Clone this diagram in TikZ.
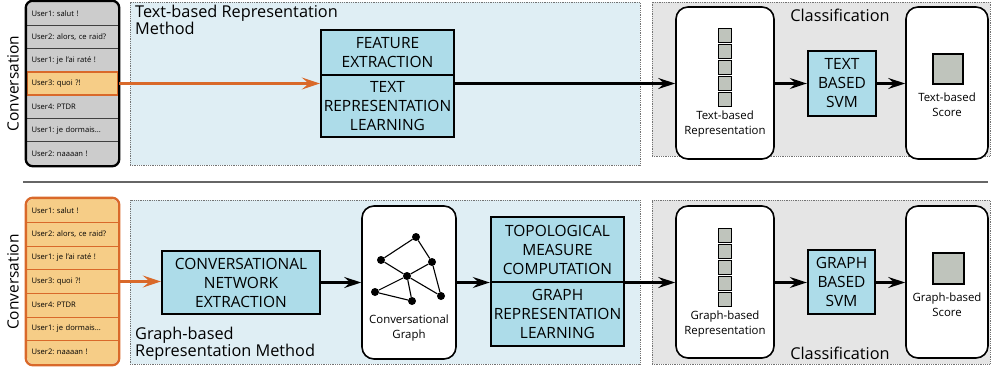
\documentclass[tikz,border=0pt]{standalone}
\usepackage{fontspec}
\setmainfont{Open Sans}
\usetikzlibrary{arrows.meta}
\frenchspacing
\definecolor{regblue}{RGB}{223,238,244}
\definecolor{boxblue}{RGB}{173,220,233}
\definecolor{reggray}{RGB}{229,229,229}
\definecolor{convgray}{RGB}{204,204,204}
\definecolor{convorange}{RGB}{246,205,135}
\definecolor{orangeline}{RGB}{217,105,42}
\definecolor{sqgray}{RGB}{191,196,188}
\newcommand{\fs}[2]{\fontsize{#1}{#2}\selectfont}
\tikzset{
  region/.style={draw=black!55, densely dotted, line width=0.8pt, inner sep=0pt},
  convbox/.style={line width=2.4pt, rounded corners=7pt, inner sep=0pt, minimum width=91pt},
  rowtext/.style={inner xsep=4.5pt, inner ysep=0pt, text width=82pt, align=left, font=\fs{7.6}{9}, text=black},
  procbox/.style={draw=black, line width=2.4pt, fill=boxblue, inner sep=0pt},
  proctext/.style={align=center, font=\fs{15.5}{19}, inner sep=0pt},
  whitebox/.style={draw=black, line width=1.6pt, fill=white, rounded corners=12pt, inner sep=0pt, minimum width=98pt, minimum height=152pt},
  scorebox/.style={whitebox, minimum width=82pt},
  smalltext/.style={align=center, font=\fs{11.4}{15}, inner sep=0pt},
  vecsq/.style={draw=black, line width=1pt, fill=sqgray, minimum width=13pt, minimum height=14pt, inner sep=0pt},
  bigsq/.style={draw=black, line width=1.4pt, fill=sqgray, minimum size=30pt, inner sep=0pt},
  title/.style={font=\fs{16.3}{15}, inner sep=0pt, align=left},
  bigtext/.style={font=\fs{16.3}{18}, inner sep=0pt},
  flow/.style={draw=black, line width=2.2pt, -{Stealth[length=17pt, width=11pt, inset=6pt]}},
  oflow/.style={draw=orangeline, line width=2.2pt, -{Stealth[length=18pt, width=12pt, inset=7pt]}},
  gdot/.style={circle, fill=black, minimum size=8pt, inner sep=0pt},
  gedge/.style={draw=black, line width=1.1pt},
}
\begin{document}
\begin{tikzpicture}[x=1pt, y=-1pt]
\useasboundingbox (0,0) rectangle (996,367);

% ---------- TOP ROW ----------
\node[region, fill=regblue, minimum width=510pt, minimum height=163pt] (treg) at (385,83.5) {};
\node[title, anchor=north west] (ttitle) at (135,5) {Text-based Representation\\Method};
\node[region, fill=reggray, minimum width=338pt, minimum height=154pt] (tcls) at (821,79) {};
\node[bigtext] (tclstitle) at (840,15) {Classification};

\node[rotate=90, font=\fs{15.5}{18}, inner sep=0pt] (tconvlab) at (13,83.5) {Conversation};
\node[convbox, fill=convgray, minimum height=163pt] (tconv) at (72.5,83.5) {};
\foreach \i/\t in {1/{User1: salut !},2/{User2: alors, ce raid?},3/{User1: je l'ai raté !},4/{User3: quoi ?!},5/{User4: PTDR},6/{User1: je dormais...},7/{User2: naaaan !}}{
  \node[rowtext, minimum height=23.286pt] (t\i) at (72.5,{2+23.286*(\i-0.5)}) {\t};
}
\foreach \i in {1,...,6}{ \draw[black!75, line width=1.1pt] (t\i.south west) -- (t\i.south east); }
\node[rowtext, minimum height=23.286pt, fill=convorange, draw=orangeline, line width=2.4pt] (t4h) at (t4) {User3: quoi ?!};
\draw[line width=2.4pt, rounded corners=7pt] (tconv.north west) rectangle (tconv.south east);

\node[procbox, minimum width=133pt, minimum height=107pt] (feat) at (387.5,83.5) {};
\coordinate (fdivl) at (321,75);
\draw[line width=1.3pt] (fdivl) -- (fdivl -| feat.east);
\node[proctext] (feata) at (387.5,52.5) {FEATURE\\EXTRACTION};
\node[proctext] (featb) at (387.5,106) {TEXT\\REPRESENTATION\\LEARNING};

\node[whitebox] (trep) at (725,83) {};
\foreach \i in {0,...,4}{ \node[vecsq] (tv\i) at (724.5,{35+16*\i}) {}; }
\node[smalltext] (treplab) at (725,124.5) {Text-based\\Representation};

\node[procbox, minimum width=68pt, minimum height=65pt] (tsvm) at (842,83.5) {};
\node[proctext] (tsvmlab) at (842,83.5) {TEXT\\BASED\\SVM};

\node[scorebox] (tscore) at (947,83) {};
\node[bigsq] (tsq) at (948,69) {};
\node[smalltext] (tscorelab) at (947,105) {Text-based\\Score};

\draw[oflow] (t4h.east) -- (t4h.east -| feat.west);
\draw[flow] (feat.east |- t4h.east) -- (trep.west |- t4h.east);
\draw[flow] (trep.east |- t4h.east) -- (tsvm.west |- t4h.east);
\draw[flow] (tsvm.east |- t4h.east) -- (tscore.west |- t4h.east);

% ---------- SEPARATOR ----------
\coordinate (sepl) at (23,182);
\coordinate (sepr) at (988,182);
\draw[black!60, line width=1.6pt] (sepl) -- (sepr);

% ---------- BOTTOM ROW ----------
\node[region, fill=regblue, minimum width=510pt, minimum height=164pt] (breg) at (385,282) {};
\node[title, anchor=south west] (btitle) at (135,361) {Graph-based\\Representation Method};
\node[region, fill=reggray, minimum width=338pt, minimum height=164pt] (bcls) at (821,282) {};
\node[bigtext] (bclstitle) at (840,353) {Classification};

\node[rotate=90, font=\fs{15.5}{18}, inner sep=0pt] (bconvlab) at (13,282) {Conversation};
\node[convbox, fill=convorange, minimum height=165pt] (bconv) at (72.5,281.5) {};
\foreach \i/\t in {1/{User1: salut !},2/{User2: alors, ce raid?},3/{User1: je l'ai raté !},4/{User3: quoi ?!},5/{User4: PTDR},6/{User1: je dormais...},7/{User2: naaaan !}}{
  \node[rowtext, minimum height=23.571pt] (b\i) at (72.5,{199+23.571*(\i-0.5)}) {\t};
}
\foreach \i in {1,...,6}{ \draw[orangeline, line width=1.1pt] (b\i.south west) -- (b\i.south east); }
\draw[orangeline, line width=2.4pt, rounded corners=7pt] (bconv.north west) rectangle (bconv.south east);

\node[procbox, minimum width=158pt, minimum height=63pt] (net) at (241,282.5) {};
\node[proctext] (netlab) at (241,282.5) {CONVERSATIONAL\\NETWORK\\EXTRACTION};

\node[whitebox, minimum width=94pt, minimum height=153pt] (gbox) at (409,282.5) {};
\node[gdot] (ga) at (416,237) {};
\node[gdot] (gb) at (381,260) {};
\node[gdot] (gc) at (432,262) {};
\node[gdot] (gd) at (407,276) {};
\node[gdot] (ge) at (375,292) {};
\node[gdot] (gf) at (412,301) {};
\node[gdot] (gg) at (441,296) {};
\foreach \u/\v in {gb/ga,ga/gc,gb/gd,gd/gc,gc/gg,gd/gg,gd/ge,gd/gf,ge/gf}{ \draw[gedge] (\u) -- (\v); }
\node[smalltext] (gboxlab) at (409,328.5) {Conversational\\Graph};

\node[procbox, minimum width=133pt, minimum height=129pt] (topo) at (557.5,281.5) {};
\coordinate (tdivl) at (491,282);
\draw[line width=1.3pt] (tdivl) -- (tdivl -| topo.east);
\node[proctext] (topoa) at (557.5,249.5) {TOPOLOGICAL\\MEASURE\\COMPUTATION};
\node[proctext] (topob) at (557.5,314) {GRAPH\\REPRESENTATION\\LEARNING};

\node[whitebox] (grep) at (725,282) {};
\foreach \i in {0,...,4}{ \node[vecsq] (gv\i) at (724.5,{235+16*\i}) {}; }
\node[smalltext] (greplab) at (725,324) {Graph-based\\Representation};

\node[procbox, minimum width=67pt, minimum height=64pt] (gsvm) at (841.5,282) {};
\node[proctext] (gsvmlab) at (841.5,282) {GRAPH\\BASED\\SVM};

\node[scorebox] (gscore) at (947,282) {};
\node[bigsq, minimum size=31pt] (gsq) at (948.5,268.5) {};
\node[smalltext] (gscorelab) at (947,304.5) {Graph-based\\Score};

\coordinate (brow) at (0,282.5);
\draw[oflow] (b4.east) -- (b4.east -| net.west);
\draw[flow] (net.east |- brow) -- (gbox.west |- brow);
\draw[flow] (gbox.east |- brow) -- (topo.west |- brow);
\draw[flow] (topo.east |- brow) -- (grep.west |- brow);
\draw[flow] (grep.east |- brow) -- (gsvm.west |- brow);
\draw[flow] (gsvm.east |- brow) -- (gscore.west |- brow);
\end{tikzpicture}
\end{document}
